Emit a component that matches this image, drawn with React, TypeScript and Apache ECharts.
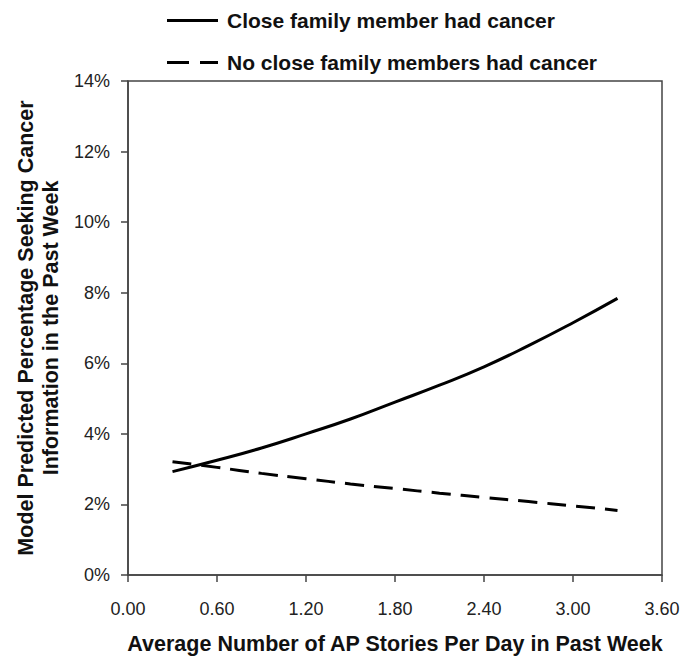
import React, { useEffect, useRef } from "react";
import * as echarts from "echarts";

const xValues = [0.3, 0.6, 0.9, 1.2, 1.5, 1.8, 2.1, 2.4, 2.7, 3.0, 3.3];
const familyCancer = [2.93, 3.25, 3.6, 4.0, 4.42, 4.9, 5.38, 5.9, 6.5, 7.15, 7.84];
const noFamilyCancer = [3.21, 3.05, 2.88, 2.73, 2.58, 2.45, 2.32, 2.2, 2.08, 1.96, 1.83];
const seriesNames = ["Close family member had cancer", "No close family members had cancer"];
const xTicks = [0, 0.6, 1.2, 1.8, 2.4, 3.0, 3.6];
const yTicks = [0, 2, 4, 6, 8, 10, 12, 14];

const FONT = "'Liberation Sans', Arial, sans-serif";

export default function App() {
  const ref = useRef<HTMLDivElement>(null);
  useEffect(() => {
    if (!ref.current) return;
    const chart = echarts.init(ref.current, null, { renderer: "svg" });
    chart.setOption({
      animation: false,
      backgroundColor: "#ffffff",
      textStyle: { fontFamily: FONT },
      legend: {
        orient: "vertical",
        left: 167,
        top: 10,
        padding: 0,
        itemWidth: 51,
        itemHeight: 3,
        itemGap: 21,
        data: [
          { name: seriesNames[0], icon: "path://M0,0H51V3H0Z" },
          { name: seriesNames[1], icon: "path://M0,0H22V3H0Z M33,0H51V3H33Z" },
        ],
        itemStyle: { color: "#000", borderWidth: 0 },
        textStyle: {
          fontFamily: FONT,
          fontWeight: "bold",
          fontSize: 21,
          lineHeight: 21,
          color: "#111",
          padding: [0, 0, 0, 4],
        },
      },
      grid: {
        left: 128,
        right: 23,
        top: 81,
        bottom: 83,
        containLabel: false,
        outerBoundsMode: "none",
        show: true,
        borderColor: "#444",
        borderWidth: 1.5,
        backgroundColor: "transparent",
      },
      xAxis: {
        type: "value",
        min: xTicks[0],
        max: xTicks[xTicks.length - 1],
        interval: 0.6,
        name: "Average Number of AP Stories Per Day in Past Week",
        nameLocation: "middle",
        nameGap: 58,
        nameTextStyle: { fontFamily: FONT, fontWeight: "bold", fontSize: 21.5, color: "#111" },
        axisLine: { show: true, lineStyle: { color: "#444", width: 1.5 } },
        axisTick: { show: true, inside: false, length: 7, lineStyle: { color: "#444", width: 1.5 } },
        axisLabel: {
          margin: 25,
          fontSize: 18,
          color: "#222",
          fontFamily: FONT,
          formatter: (v: number) => v.toFixed(2),
        },
        splitLine: { show: false },
      },
      yAxis: {
        type: "value",
        min: yTicks[0],
        max: yTicks[yTicks.length - 1],
        interval: 2,
        name: "Model Predicted Percentage Seeking Cancer\nInformation in the Past Week",
        nameLocation: "middle",
        nameGap: 64,
        nameRotate: 90,
        nameTextStyle: { fontFamily: FONT, fontWeight: "bold", fontSize: 21.5, color: "#111", lineHeight: 25 },
        axisLine: { show: true, lineStyle: { color: "#444", width: 1.5 } },
        axisTick: { show: true, inside: false, length: 7, lineStyle: { color: "#444", width: 1.5 } },
        axisLabel: {
          margin: 18,
          fontSize: 18,
          color: "#222",
          fontFamily: FONT,
          formatter: (v: number) => v + "%",
        },
        splitLine: { show: false },
      },
      series: [
        {
          name: seriesNames[0],
          type: "line",
          data: xValues.map((x, i) => [x, familyCancer[i]]),
          smooth: true,
          symbol: "none",
          lineStyle: { color: "#000", width: 3, type: "solid" },
          itemStyle: { color: "#000" },
        },
        {
          name: seriesNames[1],
          type: "line",
          data: xValues.map((x, i) => [x, noFamilyCancer[i]]),
          smooth: true,
          symbol: "none",
          lineStyle: { color: "#000", width: 3, type: [19, 10] },
          itemStyle: { color: "#000" },
        },
      ],
    });
    return () => chart.dispose();
  }, []);
  return (
    <div
      ref={ref}
      style={{ position: "fixed", left: 0, top: 0, width: 685, height: 658 }}
    />
  );
}
